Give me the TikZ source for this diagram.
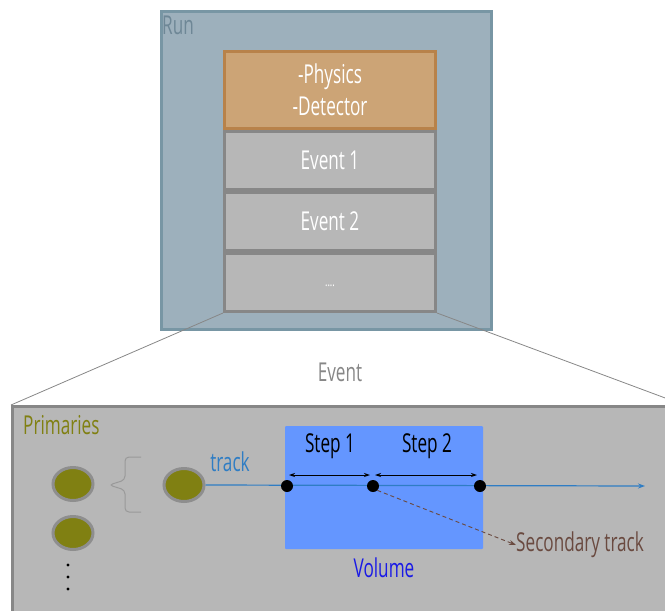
\documentclass[tikz,border=0pt]{standalone}
\usepackage{fontspec}
\setmainfont{Open Sans}[FakeStretch=0.66]
\usepackage{tikz}
\usepackage{xcolor}
\usetikzlibrary{positioning,shapes.geometric,arrows.meta,calc}
\definecolor{runfill}{HTML}{9DB0BC}
\definecolor{runedge}{HTML}{7896A4}
\definecolor{runtext}{HTML}{6E8796}
\definecolor{physfill}{HTML}{CCA476}
\definecolor{physedge}{HTML}{B8824A}
\definecolor{evfill}{HTML}{B7B7B7}
\definecolor{evedge}{HTML}{878787}
\definecolor{primolive}{HTML}{808012}
\definecolor{primedge}{HTML}{8E8E8E}
\definecolor{volfill}{HTML}{6496FF}
\definecolor{trackblue}{HTML}{2F7DC4}
\definecolor{volblue}{HTML}{1A1AE6}
\definecolor{secbrown}{HTML}{6A4A40}

\begin{document}
\begin{tikzpicture}[
        x=1pt, y=-1pt,
        every node/.style={font=\fontsize{26}{30}\selectfont, align=center, inner sep=1pt},
        runbox/.style={draw=runedge, fill=runfill, line width=3pt, minimum width=330pt, minimum height=318pt},
        physbox/.style={draw=physedge, fill=physfill, line width=3pt, text=white, minimum width=211pt, minimum height=77pt},
        evstack/.style={draw=evedge, fill=evfill, line width=3pt, text=white, minimum width=211pt, minimum height=58pt},
        evpanel/.style={draw=evedge, fill=evfill, line width=3pt, minimum width=670pt, minimum height=220pt},
        prim/.style={ellipse, draw=primedge, fill=primolive, line width=3pt, minimum width=40pt, minimum height=33pt},
        volbox/.style={fill=volfill, rounded corners=1pt, minimum width=198pt, minimum height=123pt},
        stepdot/.style={circle, fill=black, inner sep=0pt, minimum size=12pt},
        zoomline/.style={draw=evedge, line width=0.8pt},
        bracepath/.style={draw=evedge!85!white, line width=1pt, rounded corners=4pt},
        trackline/.style={draw=trackblue, line width=1.2pt, -{Stealth[length=7pt,width=5pt]}},
        steparr/.style={draw=black, line width=0.9pt, {Stealth[length=6pt,width=4pt]}-{Stealth[length=6pt,width=4pt]}},
        secarr/.style={draw=secbrown, line width=0.9pt, dash pattern=on 4pt off 3pt, -{Stealth[length=7pt,width=5pt]}},
        lbl/.style={inner sep=0pt}
      ]
        \useasboundingbox (0,0) rectangle (665,611);
        % run with its event stack
        \node[runbox] (run) at (326.5,170.5) {};
        \node[lbl, anchor=west, text=runtext] (runlbl) at (162,25) {Run};
        \node[physbox] (phys) at (330,90) {-Physics\\[2pt]-Detector};
        \node[evstack, below=0pt of phys] (ev1) {Event 1};
        \node[evstack, below=0pt of ev1]  (ev2) {Event 2};
        \node[evstack, below=0pt of ev2]  (evn) {\fontsize{14}{14}\selectfont\raisebox{-8pt}{....}};
        % one event, blown up
        \node[evpanel, anchor=north west] (evbox) at (11,405) {};
        \draw[zoomline] (evn.south west) -- (evbox.north west);
        \draw[zoomline] (evn.south east) -- (evbox.north east);
        \node[lbl, text=evedge] (evlbl) at (340,372) {Event};
        \node[lbl, anchor=west, text=primolive] (primlbl) at (23,425) {Primaries};
        \node[prim] (p1) at (73,484) {};
        \node[prim] (p2) at (73,533) {};
        \node[prim] (p3) at (184,485) {};
        \foreach \yy in {565,577,589} \fill (68,\yy) circle (1.6pt);
        \coordinate (brtop) at (141,457);
        \coordinate (brbot) at (141,512);
        \coordinate (brtip) at (109,485);
        \draw[bracepath] (brtop) -- (125,457) -- (125,480) -- (brtip) -- (125,490) -- (125,512) -- (brbot);
        \node[volbox] (vol) at (384,487.5) {};
        \node[lbl, below=8pt of vol, text=volblue] (vollbl) {Volume};
        \coordinate (trackend) at (645,486);
        \draw[trackline] (p3.east) -- (trackend);
        \node[lbl, text=trackblue] (tracklbl) at (230,462) {track};
        \node[stepdot] (s0) at (287,486) {};
        \node[stepdot] (s1) at (373,486) {};
        \node[stepdot] (s2) at (480,486) {};
        \draw[steparr] ([yshift=11pt,xshift=2pt]s0.center) -- ([yshift=11pt,xshift=-3pt]s1.center);
        \draw[steparr] ([yshift=11pt,xshift=2pt]s1.center) -- ([yshift=11pt,xshift=-3pt]s2.center);
        \node[lbl] (st1) at (330,446) {Step 1};
        \node[lbl] (st2) at (427,446) {Step 2};
        \node[lbl, anchor=west, text=secbrown] (sec) at (516,545) {Secondary track};
        \draw[secarr] (s1.south east) -- (sec.west);
      \end{tikzpicture}
\end{document}
